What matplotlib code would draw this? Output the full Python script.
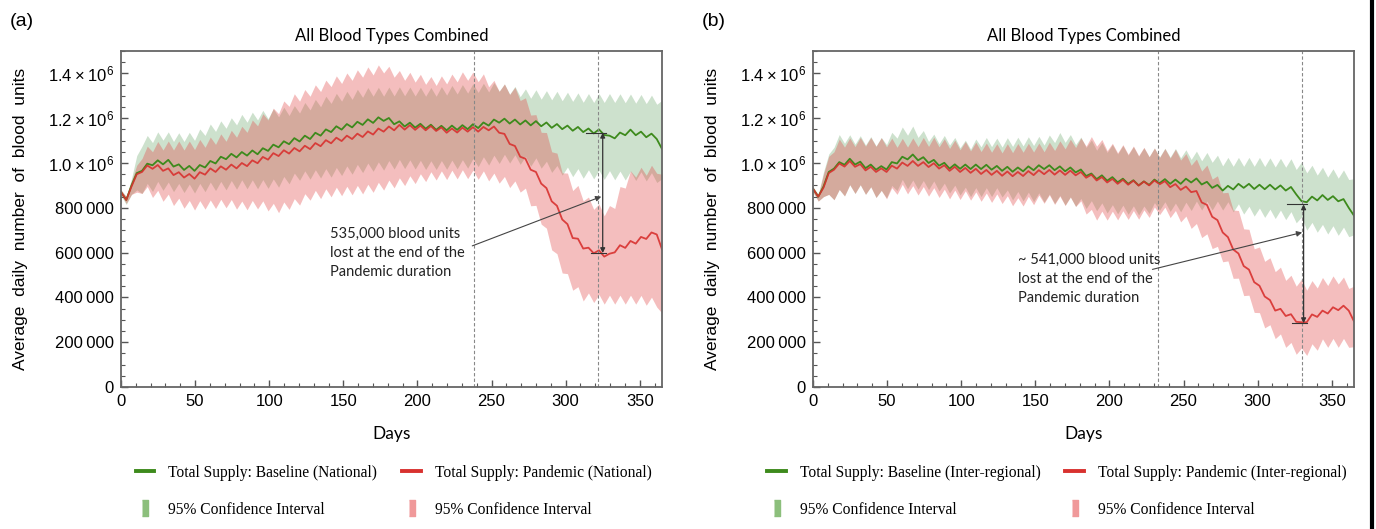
import numpy as np
import matplotlib
matplotlib.use('Agg')
import matplotlib.pyplot as plt
from matplotlib.lines import Line2D
from matplotlib.ticker import MultipleLocator, FuncFormatter

# sample days (roughly every half week over the year)
days = np.linspace(0, 365, 104)

# ---- panel (a): national, values in thousands of blood units
base_a = [870, 835, 900, 955, 965, 997, 990, 1012, 994, 1014, 984, 994, 969, 987, 965, 991, 980, 1009, 998, 1028,
          1017, 1041, 1025, 1049, 1033, 1056, 1039, 1066, 1054, 1082, 1070, 1097, 1084, 1111, 1096, 1122, 1107, 1135, 1122, 1150,
          1138, 1164, 1149, 1174, 1159, 1184, 1170, 1195, 1179, 1204, 1188, 1201, 1173, 1186, 1163, 1180, 1158, 1175, 1153, 1171,
          1148, 1166, 1146, 1167, 1148, 1169, 1151, 1173, 1156, 1181, 1167, 1194, 1180, 1198, 1176, 1194, 1172, 1190, 1168, 1187,
          1164, 1181, 1157, 1174, 1151, 1167, 1144, 1161, 1138, 1154, 1132, 1150, 1125, 1122, 1110, 1136, 1124, 1149, 1124, 1140,
          1115, 1131, 1107, 1063]
pand_a = [870, 835, 895, 950, 960, 989, 974, 991, 965, 976, 946, 959, 935, 951, 930, 959, 948, 976, 960, 985,
          970, 993, 976, 1000, 986, 1012, 999, 1027, 1015, 1044, 1031, 1057, 1042, 1067, 1052, 1077, 1062, 1089, 1075, 1102,
          1088, 1113, 1098, 1122, 1107, 1131, 1116, 1141, 1127, 1154, 1140, 1163, 1146, 1170, 1149, 1169, 1148, 1167, 1146, 1165,
          1143, 1159, 1135, 1154, 1136, 1158, 1140, 1160, 1140, 1161, 1146, 1163, 1135, 1130, 1085, 1076, 1028, 1019, 970, 960,
          908, 888, 829, 809, 748, 727, 665, 662, 618, 622, 597, 610, 582, 595, 601, 633, 621, 652, 640, 670,
          661, 690, 681, 615]
base_a_hi = [880, 850, 930, 1033, 1075, 1123, 1091, 1139, 1102, 1139, 1096, 1135, 1096, 1137, 1101, 1152, 1123, 1174, 1141, 1188,
             1155, 1202, 1170, 1217, 1182, 1227, 1192, 1235, 1198, 1242, 1206, 1249, 1212, 1256, 1223, 1270, 1237, 1284, 1251, 1298,
             1266, 1311, 1276, 1320, 1284, 1329, 1293, 1337, 1298, 1338, 1298, 1339, 1299, 1340, 1300, 1339, 1299, 1338, 1298, 1337,
             1298, 1341, 1303, 1346, 1308, 1350, 1312, 1354, 1315, 1356, 1317, 1359, 1320, 1353, 1307, 1342, 1296, 1331, 1289, 1327,
             1285, 1323, 1282, 1320, 1278, 1316, 1275, 1313, 1271, 1310, 1270, 1310, 1270, 1310, 1270, 1309, 1269, 1308, 1267, 1306,
             1265, 1303, 1262, 1280]
base_a_lo = [855, 815, 860, 880, 864, 909, 873, 918, 878, 915, 872, 909, 868, 906, 866, 909, 872, 915, 877, 918,
             880, 922, 883, 925, 885, 925, 885, 926, 887, 929, 892, 940, 907, 955, 923, 965, 928, 970, 933, 975,
             937, 980, 944, 987, 950, 994, 957, 1000, 963, 1005, 968, 1011, 973, 1016, 975, 1014, 973, 1012, 971, 1010,
             971, 1011, 972, 1013, 974, 1015, 977, 1020, 984, 1028, 991, 1035, 998, 1039, 1000, 1037, 994, 1030, 986, 1023,
             977, 1008, 958, 989, 946, 982, 939, 975, 932, 970, 929, 968, 927, 966, 925, 964, 924, 963, 922, 961,
             920, 957, 913, 930]
pand_a_hi = [880, 850, 920, 990, 1020, 1075, 1050, 1096, 1058, 1098, 1058, 1098, 1058, 1098, 1060, 1105, 1070, 1116, 1083, 1130,
             1097, 1146, 1115, 1164, 1137, 1192, 1166, 1220, 1192, 1245, 1220, 1277, 1253, 1309, 1276, 1328, 1298, 1349, 1319, 1370,
             1341, 1389, 1355, 1402, 1369, 1416, 1383, 1429, 1393, 1438, 1402, 1432, 1383, 1413, 1369, 1405, 1361, 1396, 1351, 1386,
             1346, 1389, 1353, 1397, 1362, 1407, 1369, 1406, 1363, 1398, 1340, 1369, 1320, 1353, 1306, 1338, 1279, 1291, 1214, 1216,
             1137, 1136, 1050, 1044, 956, 955, 877, 900, 831, 848, 793, 817, 764, 810, 797, 895, 888, 965, 937, 981,
             945, 990, 954, 950]
pand_a_lo = [860, 820, 860, 870, 864, 895, 846, 878, 829, 861, 810, 843, 798, 833, 790, 832, 794, 835, 797, 838,
             800, 837, 794, 830, 791, 833, 795, 831, 786, 820, 778, 826, 793, 841, 812, 863, 834, 878, 841, 885,
             849, 892, 854, 896, 858, 900, 862, 905, 869, 914, 879, 924, 889, 934, 899, 943, 908, 952, 917, 961,
             924, 965, 926, 968, 929, 970, 930, 968, 927, 965, 920, 955, 910, 940, 890, 920, 870, 888, 809, 811,
             727, 709, 612, 595, 509, 506, 432, 448, 384, 420, 377, 413, 370, 410, 370, 410, 370, 410, 370, 409,
             365, 401, 357, 330]

# ---- panel (b): inter-regional
base_b = [885, 850, 895, 960, 975, 1004, 992, 1019, 993, 1006, 977, 993, 970, 986, 971, 1004, 998, 1028, 1016, 1038,
          1012, 1026, 1000, 1014, 988, 1001, 975, 994, 974, 993, 973, 993, 973, 992, 970, 987, 965, 983, 961, 980,
          963, 985, 968, 990, 973, 990, 968, 985, 963, 980, 958, 971, 942, 953, 928, 945, 921, 937, 914, 930,
          907, 923, 900, 918, 902, 926, 910, 928, 907, 926, 907, 930, 913, 931, 904, 916, 889, 902, 877, 898,
          882, 907, 889, 907, 884, 903, 883, 903, 882, 900, 877, 893, 860, 830, 825, 850, 833, 857, 835, 852,
          829, 839, 800, 765]
pand_b = [885, 850, 890, 955, 970, 998, 984, 1009, 983, 995, 967, 983, 960, 976, 960, 988, 975, 1002, 987, 1009,
          987, 1004, 982, 999, 975, 990, 965, 983, 960, 978, 956, 974, 951, 969, 947, 965, 943, 962, 941, 960,
          942, 964, 946, 968, 950, 969, 948, 967, 947, 966, 945, 960, 934, 948, 922, 937, 913, 929, 907, 925,
          903, 921, 899, 917, 900, 922, 905, 919, 892, 906, 880, 895, 870, 875, 824, 813, 760, 745, 690, 669,
          614, 596, 540, 524, 468, 452, 404, 388, 341, 349, 317, 325, 291, 289, 289, 324, 313, 341, 328, 356,
          343, 363, 341, 293]
base_b_hi = [895, 860, 960, 1040, 1070, 1127, 1088, 1126, 1084, 1122, 1080, 1118, 1076, 1114, 1082, 1137, 1111, 1161, 1124, 1165,
             1114, 1145, 1096, 1129, 1086, 1123, 1080, 1114, 1068, 1102, 1062, 1107, 1072, 1114, 1073, 1111, 1071, 1113, 1074, 1115,
             1076, 1117, 1078, 1119, 1080, 1125, 1091, 1136, 1092, 1127, 1082, 1116, 1069, 1103, 1057, 1092, 1047, 1083, 1040, 1078,
             1035, 1073, 1030, 1068, 1028, 1067, 1027, 1066, 1026, 1065, 1023, 1059, 1016, 1053, 1010, 1047, 1003, 1035, 987, 1025,
             985, 1025, 985, 1025, 985, 1025, 984, 1023, 982, 1021, 981, 1019, 971, 1004, 956, 990, 946, 981, 937, 974,
             932, 969, 926, 930]
base_b_lo = [870, 830, 850, 860, 836, 882, 853, 903, 864, 903, 860, 894, 846, 878, 844, 900, 877, 927, 885, 924,
             883, 922, 881, 920, 875, 910, 866, 901, 857, 892, 850, 890, 850, 890, 850, 890, 848, 880, 835, 873,
             831, 870, 828, 867, 825, 862, 819, 856, 812, 849, 806, 842, 797, 832, 787, 822, 777, 814, 773, 812,
             771, 809, 768, 808, 775, 823, 790, 827, 784, 821, 782, 825, 788, 830, 790, 830, 790, 830, 790, 827,
             782, 818, 772, 807, 763, 799, 757, 794, 752, 790, 747, 783, 733, 759, 700, 735, 691, 726, 683, 720,
             677, 714, 671, 680]
pand_b_hi = [890, 855, 950, 1030, 1050, 1107, 1071, 1112, 1073, 1114, 1075, 1114, 1074, 1113, 1072, 1111, 1070, 1110, 1071, 1112,
             1073, 1114, 1074, 1115, 1072, 1108, 1065, 1102, 1059, 1096, 1054, 1093, 1051, 1089, 1048, 1086, 1045, 1086, 1046, 1087,
             1048, 1088, 1049, 1089, 1050, 1093, 1056, 1099, 1063, 1106, 1069, 1112, 1075, 1118, 1075, 1105, 1055, 1088, 1045, 1082,
             1039, 1076, 1033, 1070, 1028, 1067, 1025, 1064, 1022, 1061, 1013, 1042, 990, 1018, 964, 991, 928, 943, 867, 869,
             790, 788, 706, 704, 617, 625, 561, 577, 515, 535, 476, 499, 450, 481, 432, 475, 442, 489, 453, 496,
             460, 491, 440, 450]
pand_b_lo = [870, 830, 850, 860, 836, 882, 853, 903, 864, 903, 860, 894, 846, 878, 840, 890, 860, 905, 862, 899,
             857, 895, 852, 890, 846, 883, 840, 879, 837, 876, 834, 871, 829, 866, 824, 862, 819, 854, 809, 845,
             808, 851, 814, 857, 820, 858, 815, 852, 810, 848, 806, 831, 772, 793, 745, 785, 745, 785, 746, 787,
             748, 788, 749, 791, 757, 804, 770, 803, 756, 788, 737, 763, 708, 730, 667, 684, 618, 628, 559, 563,
             485, 486, 408, 410, 333, 332, 264, 278, 216, 237, 177, 199, 146, 174, 141, 193, 164, 215, 177, 217,
             177, 217, 177, 180]

# dashed markers and the loss annotation (day, units)
vlines_a = [238, 322]
vlines_b = [233, 330]
gap_a = (325, 1135000, 598000)
gap_b = (331, 815000, 285000)
note_a = "535,000 blood units\nlost at the end of the\nPandemic duration"
note_b = "~ 541,000 blood units\nlost at the end of the\nPandemic duration"
labels_a = ["Total Supply: Baseline (National)", "Total Supply: Pandemic (National)"]
labels_b = ["Total Supply: Baseline (Inter-regional)", "Total Supply: Pandemic (Inter-regional)"]

GREEN = '#3d8a1c'
RED = '#d8312f'
GREEN_FILL = (112/255, 169/255, 112/255)
RED_FILL = (226/255, 69/255, 69/255)

plt.rcParams['mathtext.fontset'] = 'custom'
plt.rcParams['mathtext.rm'] = 'Liberation Sans'
plt.rcParams['mathtext.it'] = 'Liberation Sans:italic'

SANS = ['Liberation Sans', 'DejaVu Sans']
HUM = ['Lato', 'DejaVu Sans']
SERIF = ['Liberation Serif', 'DejaVu Serif']


def yfmt(v, pos):
    if v == 0:
        return '0'
    if v >= 1e6 - 1:
        return '%.1f\u2009\u00d7\u200910$^{6}$' % (v / 1e6)
    return '{:,}'.format(int(round(v))).replace(',', '\u2009')


fig = plt.figure(figsize=(13.76, 5.29), dpi=100)
ax_a = fig.add_axes([121/1376, 1-387/529, 541/1376, 336/529])
ax_b = fig.add_axes([813/1376, 1-387/529, 541/1376, 336/529])


def draw(ax, base, pand, bhi, blo, phi, plo, vlines, gap, note, note_xy, arrow_from, labels, leg_x):
    k = 1000.0
    ax.fill_between(days, np.array(blo)*k, np.array(bhi)*k, color=GREEN_FILL, alpha=0.35, lw=0)
    ax.fill_between(days, np.array(plo)*k, np.array(phi)*k, color=RED_FILL, alpha=0.35, lw=0)
    ax.plot(days, np.array(base)*k, color=GREEN, lw=1.3)
    ax.plot(days, np.array(pand)*k, color=RED, lw=1.3, alpha=0.9)
    for v in vlines:
        ax.axvline(v, color='#888888', lw=0.8, ls=(0, (3, 2)))

    d, top, bot = gap
    ax.annotate('', xy=(d, bot), xytext=(d, top),
                arrowprops=dict(arrowstyle='<|-|>', color='#333333', lw=0.9, mutation_scale=7, shrinkA=0, shrinkB=0))
    ax.plot([d-11, d+2], [top, top], color='#333333', lw=0.8)
    ax.plot([d-8, d+2], [bot, bot], color='#333333', lw=0.8)
    ax.annotate('', xy=(d-1, arrow_from[2]), xytext=arrow_from[:2],
                arrowprops=dict(arrowstyle='-|>', color='#444444', lw=0.8, mutation_scale=8, shrinkA=0, shrinkB=0))
    ax.text(note_xy[0], note_xy[1], note, family=HUM, fontsize=10.5, va='top', ha='left',
            linespacing=1.45, color='#222222')

    ax.set_xlim(0, 365)
    ax.set_ylim(0, 1.5e6)
    ax.xaxis.set_major_locator(MultipleLocator(50))
    ax.xaxis.set_minor_locator(MultipleLocator(10))
    ax.yaxis.set_major_locator(MultipleLocator(200000))
    ax.yaxis.set_minor_locator(MultipleLocator(50000))
    ax.yaxis.set_major_formatter(FuncFormatter(yfmt))
    ax.tick_params(which='both', direction='in', top=False, right=False, color='#555555')
    ax.tick_params(which='major', length=5, width=1, labelsize=12, pad=5)
    ax.tick_params(which='minor', length=3, width=0.8)
    for lab in ax.get_xticklabels() + ax.get_yticklabels():
        lab.set_family(SANS)
    for s in ax.spines.values():
        s.set_color('#666666')
        s.set_linewidth(1.3)

    ax.set_title('All Blood Types Combined', family=HUM, fontsize=12, pad=7)
    ax.set_xlabel('Days', family=HUM, fontsize=12.5, labelpad=12)
    ax.set_ylabel('Average  daily  number  of  blood  units', family=SANS, fontsize=12.5, labelpad=14)

    patch = [(-0.4, -1), (0.4, -1), (0.4, 1), (-0.4, 1)]
    handles = [Line2D([], [], color=GREEN, lw=2.8),
               Line2D([], [], marker=patch, markersize=12, color='#8cbf7c', ls='none'),
               Line2D([], [], color=RED, lw=2.8),
               Line2D([], [], marker=patch, markersize=12, color='#f0999a', ls='none')]
    texts = [labels[0], '95% Confidence Interval', labels[1], '95% Confidence Interval']
    ax.legend(handles, texts, ncol=2, loc='center', bbox_to_anchor=(leg_x, -0.31), frameon=False,
              prop={'family': SERIF, 'size': 11.2}, handlelength=1.2, handletextpad=0.9,
              columnspacing=1.6, labelspacing=1.35, borderpad=0)


draw(ax_a, base_a, pand_a, base_a_hi, base_a_lo, pand_a_hi, pand_a_lo, vlines_a, gap_a,
     note_a, (141, 715000), (237, 630000, 850000), labels_a, 0.504)
draw(ax_b, base_b, pand_b, base_b_hi, base_b_lo, pand_b_hi, pand_b_lo, vlines_b, gap_b,
     note_b, (138, 600000), (229, 525000, 690000), labels_b, 0.451)

fig.text(10/1376, 1-22/529, '(a)', family=SANS, fontsize=14, va='center', ha='left')
fig.text(702/1376, 1-22/529, '(b)', family=SANS, fontsize=14, va='center', ha='left')
fig.add_artist(Line2D([1372/1376, 1372/1376], [0, 1], color='black', lw=3))

fig.savefig('out.png', dpi=100)
